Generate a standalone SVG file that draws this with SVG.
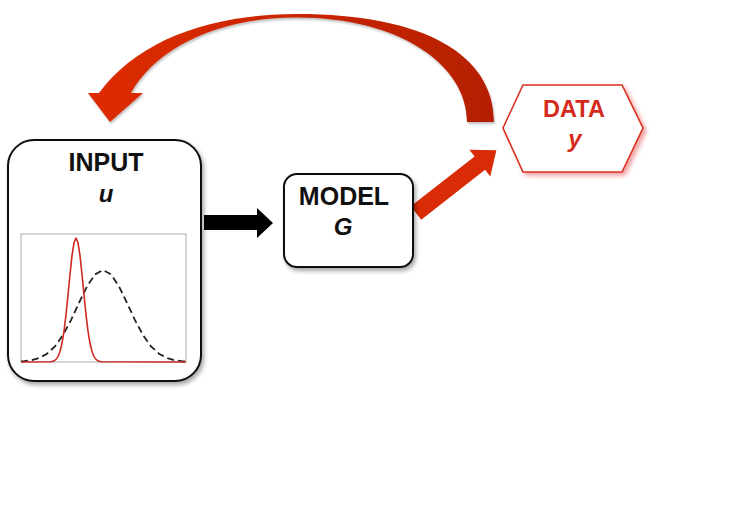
<svg xmlns="http://www.w3.org/2000/svg" width="741" height="523" viewBox="0 0 741 523">
<defs>
<style>
.lbl{font-family:"Liberation Sans",Arial,sans-serif;font-weight:bold;text-anchor:middle;fill:#111}
.red{fill:#d42a1c}
.it{font-style:italic}
.box{fill:#fff;stroke:#111;stroke-width:2}
</style>
<filter id="sh" x="-20%" y="-20%" width="140%" height="140%">
<feDropShadow dx="2" dy="3" stdDeviation="2" flood-color="#000" flood-opacity="0.35"/>
</filter>
<filter id="shr" x="-20%" y="-20%" width="140%" height="140%">
<feDropShadow dx="3" dy="3" stdDeviation="2" flood-color="#e03030" flood-opacity="0.45"/>
</filter>
<filter id="sha" x="-10%" y="-10%" width="120%" height="130%">
<feDropShadow dx="1" dy="2" stdDeviation="1.2" flood-color="#000" flood-opacity="0.25"/>
</filter>
<linearGradient id="g" x1="88" y1="0" x2="494" y2="0" gradientUnits="userSpaceOnUse">
<stop offset="0" stop-color="#de2c05"/>
<stop offset="1" stop-color="#b51f00"/>
</linearGradient>
</defs>

<g id="connectors">
<path d="M 494,122 C 494,55 425,14 297,14 C 210,14 138,40 99,93 L 88,93 L 110,122 L 143,93 L 131,93 C 155,50 215,17.5 297,17.5 C 400,17.5 467,65 467,122 Z" fill="url(#g)" filter="url(#sha)"/>
<polygon points="204,215 257,215 257,208 273,223 257,238 257,230 204,230" fill="#000"/>
<polygon transform="translate(416,213) rotate(-38)" points="0,-8.5 81,-8.5 81,-17 102,0 81,17 81,8.5 0,8.5" fill="#d92b06"/>
</g>

<g id="input">
<rect class="box" x="8" y="140" width="193" height="241" rx="26" filter="url(#sh)"/>
<text class="lbl" x="106" y="171" font-size="25">INPUT</text>
<text class="lbl it" x="106" y="202" font-size="24">u</text>
<rect x="21" y="234" width="165" height="128" fill="#fff" stroke="#aaa" stroke-width="1"/>
<polyline fill="none" stroke="#222" stroke-width="1.8" stroke-dasharray="7,4" points="21,361.5 23,361.3 31,360.3 39,358.1 47,353.7 55,346.4 63,335.1 71,320.1 79,302.9 87,286.4 95,274.4 103,270 111,274.4 119,286.4 127,302.9 135,320.1 143,335.1 151,346.4 159,353.7 167,358.1 175,360.3 183,361.3 186,361.5"/>
<polyline fill="none" stroke="#cc2a22" stroke-width="1.6" stroke-linejoin="round" points="21,362 50,361.8 52,361.5 54,360.8 56,359.4 58,356.6 60,351.5 62,343.3 64,331.1 66,314.7 68,295.1 70,274.4 72,255.7 74,242.7 76,238 78,242.7 80,255.7 82,274.4 84,295.1 86,314.7 88,331.1 90,343.3 92,351.5 94,356.6 96,359.4 98,360.8 100,361.5 102,361.8 186,362"/>
</g>

<g id="model">
<rect class="box" x="284" y="174" width="129" height="93" rx="13" filter="url(#sh)"/>
<text class="lbl" x="344" y="205" font-size="25">MODEL</text>
<text class="lbl it" x="343" y="235" font-size="24">G</text>
</g>

<g id="data">
<polygon points="503,128 523,85 622,85 643,128 622,172 523,172" fill="#fff" stroke="#d9311f" stroke-width="1.6" filter="url(#shr)"/>
<text class="lbl red" x="574" y="117" font-size="23.5">DATA</text>
<text class="lbl red it" x="575" y="147" font-size="24">y</text>
</g>
</svg>
